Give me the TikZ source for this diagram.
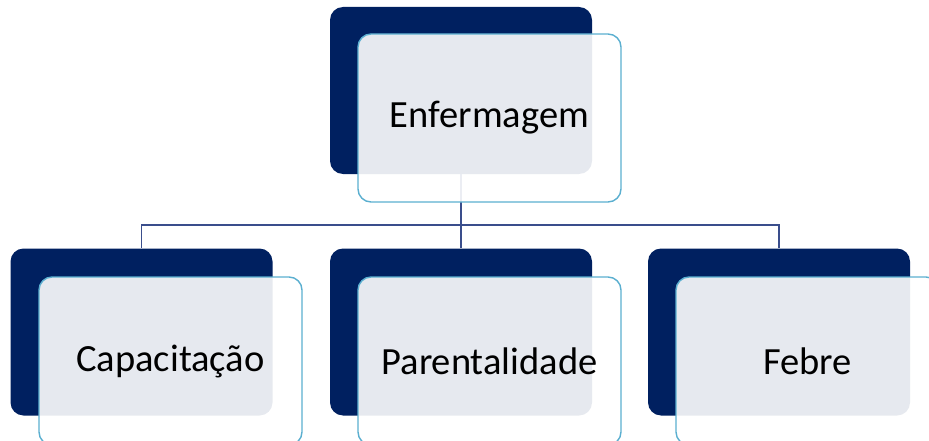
\documentclass[tikz,border=0pt]{standalone}
\usepackage{fontspec}
\setmainfont{Carlito}
\usetikzlibrary{backgrounds}
\definecolor{navy}{HTML}{002060}
\definecolor{lightedge}{HTML}{5BAFD0}
\definecolor{linkc}{HTML}{3A4E8C}
\tikzset{
  darkbox/.style={draw=none, fill=navy, rounded corners=13pt, minimum width=262pt, minimum height=167pt, inner sep=0pt},
  lightbox/.style={draw=lightedge, line width=1.4pt, fill=white, fill opacity=0.9, text opacity=1, rounded corners=13pt, minimum width=263pt, minimum height=168pt, inner sep=0pt, font=\fontsize{38.5}{44}\selectfont, text=black},
  link/.style={draw=linkc, line width=1.8pt}
}
\begin{document}
\begin{tikzpicture}[x=1pt,y=-1pt]
\useasboundingbox (0,0) rectangle (929,441);
\node[darkbox] (d0) at (461,90.5) {};
\node[darkbox] (d1) at (141.5,332) {};
\node[darkbox] (d2) at (461,332) {};
\node[darkbox] (d3) at (779,332) {};
\coordinate (bus) at (0,225);
\begin{scope}[on background layer]
\draw[link] (d0.south) -- (d0.south |- bus) -| (d1.north);
\draw[link] (d0.south) -- (d0.south |- bus) -| (d2.north);
\draw[link] (d0.south) -- (d0.south |- bus) -| (d3.north);
\end{scope}
\node[lightbox] (l0) at (489.5,118) {Enfermagem};
\node[lightbox] (l1) at (170.5,361) {Capacitação};
\node[lightbox] (l2) at (489.5,361) {Parentalidade};
\node[lightbox] (l3) at (807.5,361) {Febre};
\end{tikzpicture}
\end{document}
